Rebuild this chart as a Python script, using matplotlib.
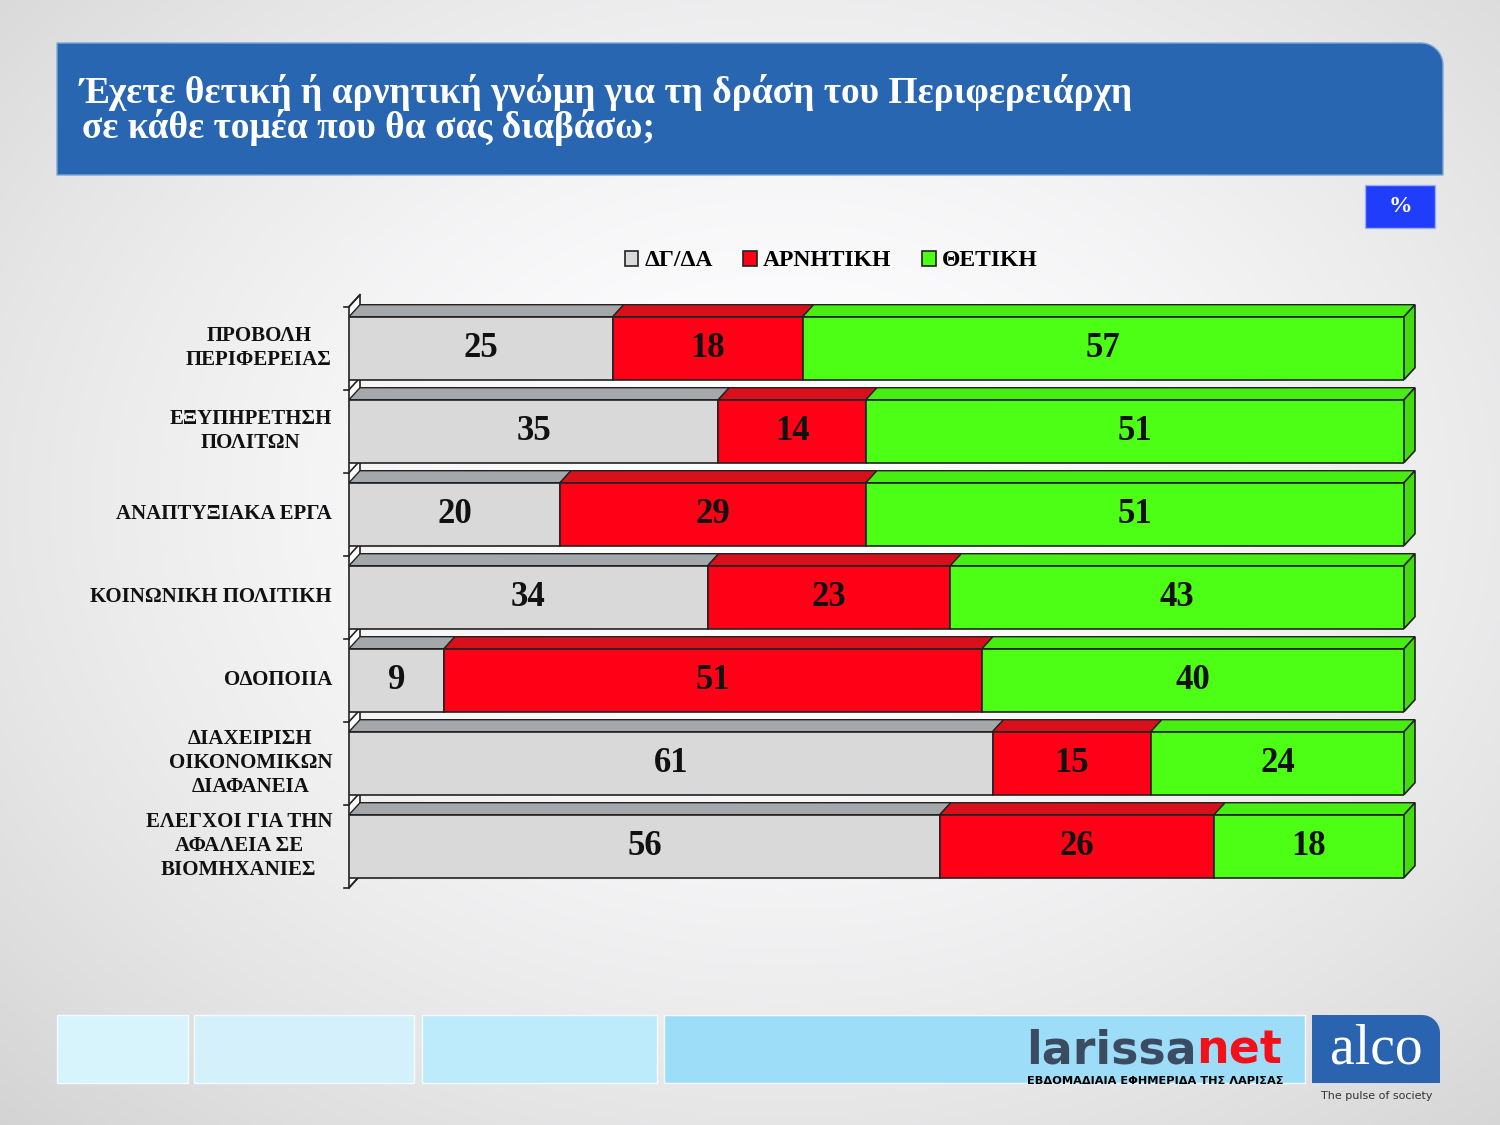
import numpy as np
import matplotlib
matplotlib.use("Agg")
import matplotlib.pyplot as plt
from matplotlib.patches import Rectangle, Polygon, PathPatch
from matplotlib.path import Path
from matplotlib.lines import Line2D

# ---------------- data ----------------
categories = [
    "ΠΡΟΒΟΛΗ\nΠΕΡΙΦΕΡΕΙΑΣ",
    "ΕΞΥΠΗΡΕΤΗΣΗ\nΠΟΛΙΤΩΝ",
    "ΑΝΑΠΤΥΞΙΑΚΑ ΕΡΓΑ",
    "ΚΟΙΝΩΝΙΚΗ ΠΟΛΙΤΙΚΗ",
    "ΟΔΟΠΟΙΙΑ",
    "ΔΙΑΧΕΙΡΙΣΗ\nΟΙΚΟΝΟΜΙΚΩΝ\nΔΙΑΦΑΝΕΙΑ",
    "ΕΛΕΓΧΟΙ ΓΙΑ ΤΗΝ\nΑΦΑΛΕΙΑ ΣΕ\nΒΙΟΜΗΧΑΝΙΕΣ",
]
series_names = ["ΔΓ/ΔΑ", "ΑΡΝΗΤΙΚΗ", "ΘΕΤΙΚΗ"]
dk_da = [25, 35, 20, 34, 9, 61, 56]
arnitiki = [18, 14, 29, 23, 51, 15, 26]
thetiki = [57, 51, 51, 43, 40, 24, 18]
title_line1 = "Έχετε θετική ή αρνητική γνώμη για τη δράση του Περιφερειάρχη"
title_line2 = "σε κάθε τομέα που θα σας διαβάσω;"

# ---------------- styles ----------------
front_colors = ["#D9D9D9", "#FF0016", "#4CFF14"]
top_colors = ["#A5A8AB", "#D8101C", "#46EE12"]
side_color = "#42DC10"
edge = "#222222"
serif = "Liberation Serif"
sans = "DejaVu Sans"

W, H = 1500, 1125
fig = plt.figure(figsize=(15, 11.25), dpi=100)

# background axes in pixel coordinates
bg = fig.add_axes([0, 0, 1, 1])
bg.set_xlim(0, W)
bg.set_ylim(H, 0)
bg.axis("off")

yy, xx = np.mgrid[0:H:4, 0:W:4]
d = np.sqrt(((xx - 780) / 900.0) ** 2 + ((yy - 500) / 700.0) ** 2)
v = np.clip(1.0 - 0.12 * d ** 1.6, 0, 1)
img = np.clip(np.dstack([v, v, v * 1.005]), 0, 1)
bg.imshow(img, extent=[0, W, H, 0], aspect="auto", zorder=0, interpolation="bilinear")


def rounded_tr(x0, y0, x1, y1, r):
    # rectangle (y downward) with rounded top-right corner
    t = np.linspace(0, np.pi / 2, 12)
    arc = [(x1 - r + r * np.sin(a), y0 + r - r * np.cos(a)) for a in t]
    verts = [(x0, y1), (x0, y0)] + arc + [(x1, y1), (x0, y1)]
    codes = [Path.MOVETO] + [Path.LINETO] * (len(verts) - 2) + [Path.CLOSEPOLY]
    return Path(verts, codes)


# title banner
bg.add_patch(PathPatch(rounded_tr(57, 43, 1443, 175, 22), facecolor="#2966B2",
                       edgecolor="#7FA6D6", lw=1.0, zorder=2))
bg.text(80, 103, title_line1, color="white", fontsize=27,
        fontweight="bold", family=serif, ha="left", va="baseline", zorder=3)
bg.text(82, 138, title_line2, color="white", fontsize=27,
        fontweight="bold", family=serif, ha="left", va="baseline", zorder=3)

# % box
bg.add_patch(Rectangle((1365, 185), 70, 43, facecolor="#1F3DFA",
                       edgecolor="#9FB0F0", lw=1.0, zorder=2))
bg.text(1400, 207, "%", color="white", fontsize=17, fontweight="bold",
        family=serif, ha="center", va="center", zorder=3)

# footer boxes
for (x0, x1, c) in [(57, 188, "#D7F3FC"), (194, 414, "#D3F0FB"),
                    (422, 657, "#BDEBFC"), (664, 1305, "#9EDDF8")]:
    bg.add_patch(Rectangle((x0, 1015), x1 - x0, 68, facecolor=c,
                           edgecolor="#F4FBFF", lw=1.0, zorder=2))
t1 = bg.text(1026, 1064, "larissa", color="#3B4C62", fontsize=33,
             fontweight="bold", family=sans,
             ha="left", va="baseline", zorder=3)
bg.annotate("net", xy=(1, 0), xycoords=t1, color="#F2101A", fontsize=33,
            fontweight="bold", family=sans,
            ha="left", va="bottom", zorder=3)
bg.text(1027, 1076, "ΕΒΔΟΜΑΔΙΑΙΑ ΕΦΗΜΕΡΙΔΑ ΤΗΣ ΛΑΡΙΣΑΣ", color="black",
        fontsize=8.2, fontweight="bold", family=sans,
        ha="left", va="top", zorder=3)
bg.add_patch(PathPatch(rounded_tr(1312, 1015, 1440, 1083, 18),
                       facecolor="#2A64B0", edgecolor="none", zorder=2))
bg.text(1376, 1050, "alco", color="white", fontsize=40, family=serif,
        ha="center", va="center", zorder=3)
bg.text(1377, 1096, "The pulse of society", color="#333333", fontsize=8,
        family=sans, ha="center", va="center", zorder=3)

# ---------------- chart ----------------
top_px, bot_px = 306.7, 887.7
x0_px, x1_px = 349, 1404
ax = fig.add_axes([x0_px / W, 1 - bot_px / H, (x1_px - x0_px) / W,
                   (bot_px - top_px) / H])
ax.set_xlim(0, 100)
ax.set_ylim(len(categories), 0)
ax.axis("off")

px_per_x = (x1_px - x0_px) / 100.0
px_per_y = (bot_px - top_px) / len(categories)
dx = 11 / px_per_x
dd = 12 / px_per_y
bh = 63 / px_per_y
n = len(categories)

# left wall
ax.add_patch(Polygon([(0, 0), (0, n), (dx, n - dd), (dx, -dd)], closed=True,
                     facecolor="white", edgecolor=edge, lw=1.2, zorder=1,
                     clip_on=False))
for k in range(n + 1):
    ax.add_line(Line2D([0, dx], [k, k - dd], color=edge, lw=1.2, zorder=1,
                       clip_on=False))
    ax.add_line(Line2D([-0.5, 0], [k, k], color=edge, lw=1.2, zorder=1,
                       clip_on=False))

data = [dk_da, arnitiki, thetiki]
for i in range(n):
    left = 0
    yc = i + 0.5
    ytop = yc - bh / 2
    for s in range(3):
        val = data[s][i]
        ax.barh(yc, val, left=left, height=bh, color=front_colors[s],
                edgecolor=edge, lw=1.2, zorder=3)
        ax.add_patch(Polygon([(left, ytop), (left + val, ytop),
                              (left + val + dx, ytop - dd), (left + dx, ytop - dd)],
                             closed=True, facecolor=top_colors[s], edgecolor=edge,
                             lw=1.0, zorder=2, clip_on=False))
        ax.text(left + val / 2, yc, str(val), ha="center", va="center",
                fontsize=25, fontweight="bold", family=serif, color="#111111",
                zorder=5)
        left += val
    ax.add_patch(Polygon([(left, ytop), (left + dx, ytop - dd),
                          (left + dx, ytop + bh - dd), (left, ytop + bh)],
                         closed=True, facecolor=side_color, edgecolor=edge,
                         lw=1.2, zorder=2, clip_on=False))
    ax.text(-17 / px_per_x, yc, categories[i], ha="right", va="center",
            multialignment="center", fontsize=15, fontweight="bold",
            family=serif, color="#111111", linespacing=1.25)

handles = [Rectangle((0, 0), 1, 1, facecolor=c, edgecolor=edge, lw=1.2)
           for c in front_colors]
fig.legend(handles, series_names, loc="center", bbox_to_anchor=(831 / W, 1 - 261 / H),
           ncol=3, frameon=False, handlelength=0.58, handleheight=0.58,
           handletextpad=0.25, columnspacing=1.3,
           prop={"family": serif, "weight": "bold", "size": 17})

fig.savefig("out.png", dpi=100)
